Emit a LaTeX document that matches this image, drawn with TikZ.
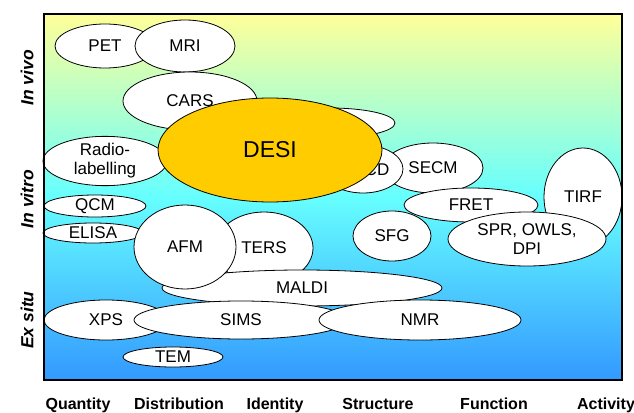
\documentclass[tikz,border=0pt]{standalone}
\usepackage{fontspec}
\setmainfont{Liberation Sans}
\usepackage{tikz}
\usetikzlibrary{shapes.geometric}
\usepackage{xcolor}
\definecolor{bgyellow}{RGB}{255,255,153}
\definecolor{bgcyan}{RGB}{102,255,255}
\definecolor{bgblue}{RGB}{51,153,255}
\definecolor{desiorange}{RGB}{255,204,0}
\tikzstyle{tech} = [ellipse, draw=black, fill=white, line width=0.8pt, inner sep=0pt, align=center, font=\fontsize{17}{19}\selectfont]
\tikzstyle{desibox} = [tech, fill=desiorange, font=\fontsize{23}{25}\selectfont]
\tikzstyle{rowlabel} = [rotate=90, font=\fontsize{17.5}{19}\selectfont\bfseries\itshape]
\tikzstyle{collabel} = [anchor=base, font=\fontsize{16}{18}\selectfont\bfseries]

\begin{document}
\begin{tikzpicture}[x=1pt, y=-1pt]
\useasboundingbox (0,0) rectangle (634,412);
% gradient panel (middle color has to come last)
\shade[top color=bgyellow, bottom color=bgblue, middle color=bgcyan] (44,14) rectangle (622,380);

% in vivo
\node[tech, minimum width=100pt, minimum height=44pt] (pet) at (105,46) {PET};
\node[tech, minimum width=100pt, minimum height=52pt] (mri) at (185,46) {MRI};
\node[tech, minimum width=134pt, minimum height=58pt] (cars) at (190,101) {CARS};
\node[tech, minimum width=130pt, minimum height=30pt] (blank) at (330,123) {};

% in vitro, behind DESI
\node[tech, minimum width=124pt, minimum height=48pt] (radio) at (105,161) {Radio-\\labelling};
\node[tech, minimum width=100pt, minimum height=50pt] (secm) at (433,168) {SECM};
\node[tech, minimum width=80pt, minimum height=48pt] (cd) at (363,169) {};
\node[font=\fontsize{17}{19}\selectfont] (cdlabel) at (377,170) {CD};
\node[desibox, minimum width=224pt, minimum height=104pt] (desi) at (270,150) {DESI};

\node[tech, minimum width=102pt, minimum height=22pt] (qcm) at (95,206) {QCM};
\node[tech, minimum width=100pt, minimum height=20pt] (elisa) at (93,233) {ELISA};
\node[tech, minimum width=98pt, minimum height=72pt] (ters) at (264,248) {TERS};
\node[tech, minimum width=280pt, minimum height=36pt] (maldi) at (302,288) {MALDI};
\node[tech, minimum width=102pt, minimum height=84pt] (afm) at (185,247) {AFM};

% ex situ
\node[tech, minimum width=124pt, minimum height=40pt] (xps) at (106,320) {XPS};
\node[tech, minimum width=214pt, minimum height=38pt] (sims) at (241,320) {SIMS};
\node[tech, minimum width=202pt, minimum height=40pt] (nmr) at (420,320) {NMR};
\node[tech, minimum width=100pt, minimum height=20pt] (tem) at (173,357) {TEM};

% right hand side
\node[tech, minimum width=134pt, minimum height=34pt] (fret) at (471,205) {FRET};
\node[tech, minimum width=78pt, minimum height=98pt] (tirf) at (583,197) {TIRF};
\node[tech, minimum width=158pt, minimum height=54pt] (spr) at (527,239) {SPR, OWLS,\\DPI};
\node[tech, minimum width=78pt, minimum height=50pt] (sfg) at (392,236) {SFG};

\draw[line width=2.5pt] (44,14) rectangle (622,380);

% axis labels
\node[rowlabel] (invivo) at (27,78) {In vivo};
\node[rowlabel] (invitro) at (27,199) {In vitro};
\node[rowlabel] (exsitu) at (27,320) {Ex situ};

\node[collabel] (quantity) at (78,409) {Quantity};
\node[collabel] (distribution) at (179,409) {Distribution};
\node[collabel] (identity) at (275,409) {Identity};
\node[collabel] (structure) at (378,409) {Structure};
\node[collabel] (function) at (494,409) {Function};
\node[collabel] (activity) at (606,409) {Activity};
\end{tikzpicture}
\end{document}
